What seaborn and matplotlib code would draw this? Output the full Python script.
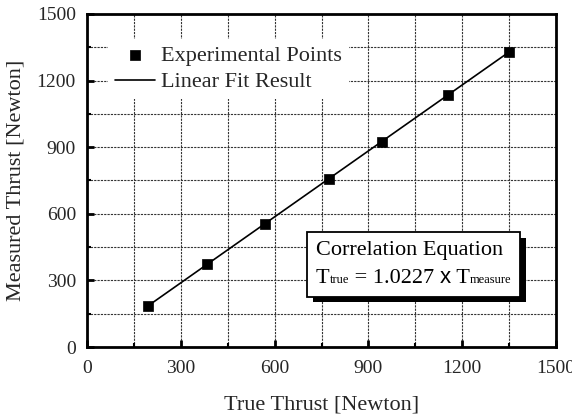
import numpy as np
import pandas as pd
import matplotlib
matplotlib.use('Agg')
import matplotlib.pyplot as plt
import seaborn as sns
from matplotlib.ticker import MultipleLocator, FixedLocator
from matplotlib.offsetbox import TextArea, HPacker, VPacker, AnchoredOffsetbox
import matplotlib.patheffects as pe

# ---- data ----
true_thrust = [196, 385, 569, 774, 942, 1153, 1349]
measured_thrust = [185, 375, 556, 759, 922, 1134, 1329]
x_ticks = [0, 300, 600, 900, 1200, 1500]
y_ticks = [0, 300, 600, 900, 1200, 1500]
legend_labels = ['Experimental Points', 'Linear Fit Result']
x_label = 'True Thrust [Newton]'
y_label = 'Measured Thrust [Newton]'
box_title = 'Correlation Equation'
eq_parts = [('T', 'main'), ('true', 'sub'), (' = 1.0227 ', 'main'), ('x', 'sans'),
            (' T', 'main'), ('measure', 'sub')]

sns.set_style('ticks')
plt.rcParams['font.family'] = ['Liberation Serif', 'DejaVu Serif']

fig = plt.figure(figsize=(5.72, 4.15), dpi=100)
ax = fig.add_axes([87/572, 68/415, 469/572, 333/415])

df = pd.DataFrame({'true': true_thrust, 'measured': measured_thrust})
sns.scatterplot(data=df, x='true', y='measured', marker='s', s=42, color='black',
                edgecolor='black', linewidth=0.5, label=legend_labels[0], zorder=3, ax=ax)
sns.regplot(data=df, x='true', y='measured', scatter=False, ci=None, color='black',
            line_kws={'lw': 1.2}, label=legend_labels[1], ax=ax)

ax.set_xlim(0, 1500)
ax.set_ylim(0, 1500)
ax.xaxis.set_major_locator(FixedLocator(x_ticks))
ax.yaxis.set_major_locator(FixedLocator(y_ticks))
ax.xaxis.set_minor_locator(MultipleLocator(150))
ax.yaxis.set_minor_locator(MultipleLocator(150))
ax.tick_params(which='major', direction='in', length=5, width=2, labelsize=14, color='black')
ax.tick_params(axis='x', which='major', pad=9)
ax.tick_params(axis='y', which='major', pad=8)
ax.tick_params(which='minor', direction='in', length=3, width=1.5, color='black')
for s in ax.spines.values():
    s.set_linewidth(2)
    s.set_color('black')
    s.set_visible(True)

ax.set_axisbelow(True)
ax.grid(which='both', ls=(0, (2, 1)), color='#333333', lw=0.8)

ax.set_xlabel(x_label, fontsize=16, labelpad=14)
ax.set_ylabel(y_label, fontsize=16, labelpad=8)

leg = ax.legend(loc='upper left', bbox_to_anchor=(0.045, 0.925), fontsize=16,
                frameon=True, fancybox=False, edgecolor='none', facecolor='white',
                framealpha=1, borderpad=0.3, handlelength=1.8, handletextpad=0.3,
                labelspacing=0.25, borderaxespad=0)

# correlation box built from text pieces
styles = {'main': dict(fontsize=16, family='Liberation Serif', color='black'),
          'sub': dict(fontsize=9, family='Liberation Serif', color='black'),
          'sans': dict(fontsize=16, family='Liberation Sans', color='black')}
title_area = TextArea(box_title, textprops=styles['main'])
eq_row = HPacker(children=[TextArea(txt, textprops=styles[st]) for txt, st in eq_parts],
                 align='baseline', pad=0, sep=0)
vbox = VPacker(children=[title_area, eq_row], align='left', pad=0, sep=5)
ab = AnchoredOffsetbox(loc='upper left', child=vbox, pad=0.4, borderpad=0,
                       frameon=True, bbox_to_anchor=((307-87)/469, (347-232)/333),
                       bbox_transform=ax.transAxes, prop=dict(size=16))
ab.patch.set_boxstyle('square', pad=0)
ab.patch.set_edgecolor('black')
ab.patch.set_linewidth(1.3)
ab.patch.set_facecolor('white')
ab.patch.set_path_effects([
    pe.SimplePatchShadow(offset=(4, -4), shadow_rgbFace='black', alpha=1),
    pe.Normal()])
ab.set_zorder(6)
ax.add_artist(ab)

fig.savefig('out.png', dpi=100)
